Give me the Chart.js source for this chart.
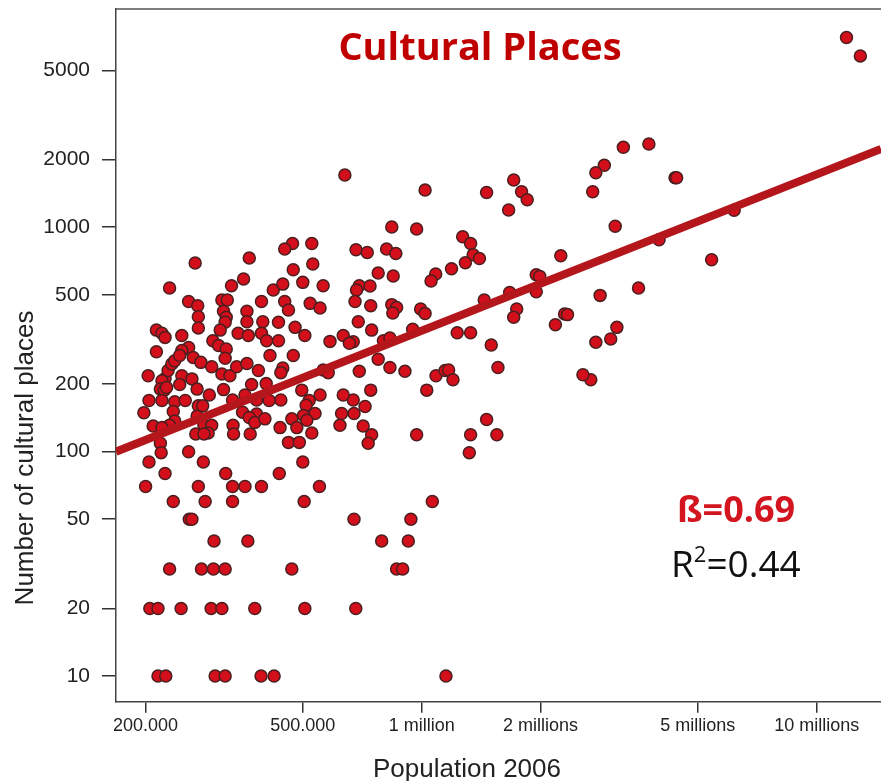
<!DOCTYPE html>
<html lang="en">
<head>
<meta charset="UTF-8">
<title>Cultural Places</title>
<script src="https://cdn.jsdelivr.net/npm/chart.js"></script>
<style>
  body { margin: 0; background: #fff; }
  #chart { display: block; }
</style>
</head>
<body>
<canvas id="chart" width="881" height="781"></canvas>
<script>
// Population 2006 (in thousands) and number of cultural places, one entry per city
const popK = [
  11900, 12900, 3240, 3760, 2900, 2760, 2710, 4380, 4420, 3090, 3990, 6180, 5420, 3540, 2830, 3120, 3010, 2760, 2680,
  1020, 1710, 1460, 1790, 1850, 1660, 840, 971, 682, 728, 815, 860, 1270, 1330, 1350, 1400, 1290, 2250,
  776, 847, 1085, 1056, 1190, 695, 684, 740, 678, 743, 840, 864, 845, 994, 1020, 1440, 1670, 1950, 1990, 1950,
  1740, 1710, 2300, 2340, 2180, 691, 747, 671, 800, 831, 949, 1230, 1330, 1500, 776, 695, 831, 907, 1087, 1146,
  1170, 1200, 1560, 1030, 743, 671, 719, 674, 711, 747, 732, 971, 1330, 1550, 1460, 1320, 2560,
  1064, 674, 939, 792, 925, 864, 895, 681, 1152,
  639, 471, 527, 450,
  267, 366, 230, 257, 271, 272, 272, 312, 322, 315, 320, 318, 309, 354, 330, 393, 361, 361, 343, 364, 396,
  421, 445, 473, 500, 530, 563, 450, 460, 522, 553, 434, 478, 506, 393, 405, 434, 586, 633, 656,
  213, 220, 224, 213, 247, 257, 247, 264, 276, 296, 306, 320, 318, 294, 312, 327, 340, 361, 386, 413, 445,
  440, 473, 563, 580, 203, 224, 228, 233, 237, 244, 247, 244, 262, 270, 220, 218, 223, 226, 204, 220, 237,
  252, 198, 235, 237, 230, 209, 220, 218, 219, 257, 272, 279, 290, 315, 332, 357, 382, 411, 440, 497, 519,
  510, 553, 633, 627, 537, 502, 469, 438, 483, 512, 527, 460, 490, 382, 352, 371, 404, 270, 281, 294, 288,
  268, 281, 333, 334, 366, 378, 401, 368, 621,
  204, 280, 224, 319, 436, 500, 200, 272, 332, 357, 393, 551, 235, 283, 332, 504, 258, 262, 298, 363,
  230, 277, 297, 318, 469, 205, 215, 246, 293, 312, 378, 506, 215, 225, 300, 318, 392, 423
];
const places = [
  7000, 5800, 2270, 2350, 1890, 1750, 1440, 1660, 1660, 1010, 880, 1190, 716, 536, 497, 358, 318, 307, 209,
  1464, 1623, 1429, 1439, 1326, 1193, 1002, 982, 794, 772, 800, 764, 907, 847, 754, 726, 695, 746,
  625, 606, 619, 576, 653, 549, 525, 547, 467, 447, 452, 439, 415, 432, 413, 474, 512, 614, 604, 516,
  432, 397, 411, 408, 368, 379, 348, 309, 312, 321, 351, 339, 339, 299, 258, 228, 237, 228, 218, 230,
  231, 209, 237, 188, 188, 170, 159, 148, 130, 119, 109, 119, 119, 119, 139, 99, 220,
  60, 50, 50, 40, 40, 30, 30, 20, 10,
  1708, 847, 847, 800,
  693, 729, 536, 467, 447, 399, 356, 474, 474, 422, 397, 377, 348, 588, 549, 467, 422, 379, 337, 329, 379,
  525, 558, 647, 568, 686, 549, 467, 428, 458, 437, 377, 358, 329, 337, 312, 312, 310, 329, 304,
  348, 337, 323, 279, 329, 291, 282, 263, 250, 312, 297, 287, 261, 239, 222, 218, 239, 247, 230, 268, 236,
  225, 268, 231, 225, 218, 212, 230, 246, 254, 268, 218, 199, 211, 190, 207, 190, 188, 193, 169, 169, 167,
  169, 149, 151, 137, 131, 130, 128, 109, 99, 100, 160, 160, 179, 189, 170, 179, 170, 169, 170, 188, 169,
  161, 179, 179, 148, 148, 145, 140, 128, 128, 138, 121, 110, 110, 147, 150, 199, 201, 144, 131, 131, 121,
  120, 120, 131, 120, 142, 135, 140, 120, 131,
  90, 90, 80, 80, 80, 90, 70, 70, 70, 70, 70, 70, 60, 60, 60, 60, 50, 50, 40, 40,
  30, 30, 30, 30, 30, 20, 20, 20, 20, 20, 20, 20, 10, 10, 10, 10, 10, 10
];
// fitted line (log-log), read where it meets the plot edges
const fitPopK = [168.3, 14550];
const fitPlaces = [100, 2230];

const xTicks = [200, 500, 1000, 2000, 5000, 10000];
const xTickLabels = ['200.000', '500.000', '1 million', '2 millions', '5 millions', '10 millions'];
const yTicks = [10, 20, 50, 100, 200, 500, 1000, 2000, 5000];

const FONT = '"Liberation Sans", Arial, sans-serif';

// title, annotation, axis titles and the top frame line
const decorations = {
  id: 'decorations',
  afterDraw(chart) {
    const ctx = chart.ctx;
    const area = chart.chartArea;
    ctx.save();

    ctx.strokeStyle = '#555';
    ctx.lineWidth = 1.5;
    ctx.beginPath();
    ctx.moveTo(area.left, area.top);
    ctx.lineTo(area.right, area.top);
    ctx.stroke();

    ctx.fillStyle = '#c00000';
    ctx.font = 'bold 38px "Open Sans", sans-serif';
    ctx.textAlign = 'center';
    ctx.textBaseline = 'alphabetic';
    ctx.fillText('Cultural Places', 480, 60);

    ctx.textAlign = 'left';
    ctx.fillStyle = '#d2151e';
    ctx.font = 'bold 36px "Open Sans", sans-serif';
    ctx.fillText('ß=0.69', 677, 522);

    ctx.fillStyle = '#111';
    ctx.font = '37px "Open Sans", sans-serif';
    let x = 671;
    ctx.fillText('R', x, 577);
    x += ctx.measureText('R').width;
    ctx.font = '22px "Open Sans", sans-serif';
    ctx.fillText('2', x, 562);
    x += ctx.measureText('2').width;
    ctx.font = '37px "Open Sans", sans-serif';
    ctx.fillText('=0.44', x, 577);

    ctx.fillStyle = '#222';
    ctx.font = '26px ' + FONT;
    ctx.textAlign = 'center';
    ctx.fillText('Population 2006', 467, 777);

    ctx.translate(33, 458);
    ctx.rotate(-Math.PI / 2);
    ctx.fillText('Number of cultural places', 0, 0);
    ctx.restore();
  }
};

const cityPoints = popK.map((p, i) => ({ x: p, y: places[i] }));
const fitLine = fitPopK.map((p, i) => ({ x: p, y: fitPlaces[i] }));

new Chart(document.getElementById('chart'), {
  type: 'scatter',
  data: {
    datasets: [
      {
        type: 'line',
        data: fitLine,
        borderColor: '#b5161c',
        borderWidth: 8,
        pointRadius: 0,
        fill: false,
        order: 0
      },
      {
        data: cityPoints,
        backgroundColor: '#d40f1c',
        borderColor: '#4a1f1f',
        borderWidth: 1.5,
        pointRadius: 6,
        order: 1
      }
    ]
  },
  options: {
    responsive: false,
    devicePixelRatio: 1,
    animation: false,
    layout: { autoPadding: false, padding: { top: 9, right: 0, left: 0, bottom: 0 } },
    plugins: {
      legend: { display: false },
      tooltip: { enabled: false }
    },
    scales: {
      x: {
        type: 'logarithmic',
        min: 168.3,
        max: 14550,
        afterBuildTicks: (scale) => { scale.ticks = xTicks.map(v => ({ value: v })); },
        afterFit: (scale) => {
          scale.height = 79.3;
          scale.paddingLeft = 0;
          scale.paddingRight = 0;
        },
        ticks: {
          autoSkip: false,
          maxRotation: 0,
          padding: 3,
          color: '#222',
          font: { family: FONT, size: 18 },
          callback: (value, index) => xTickLabels[index]
        },
        grid: { drawOnChartArea: false, tickLength: 11, color: '#333', lineWidth: 1.5 },
        border: { display: true, color: '#444', width: 1.5 }
      },
      y: {
        type: 'logarithmic',
        min: 7.69,
        max: 9385,
        afterBuildTicks: (scale) => { scale.ticks = yTicks.map(v => ({ value: v })); },
        afterFit: (scale) => {
          scale.width = 116;
          scale.paddingTop = 0;
          scale.paddingBottom = 0;
        },
        ticks: {
          autoSkip: false,
          padding: 12,
          color: '#222',
          font: { family: FONT, size: 21 },
          callback: (value, index) => String(yTicks[index])
        },
        grid: { drawOnChartArea: false, tickLength: 14, color: '#333', lineWidth: 1.5 },
        border: { display: true, color: '#444', width: 1.5 }
      }
    }
  },
  plugins: [decorations]
});
</script>
</body>
</html>
